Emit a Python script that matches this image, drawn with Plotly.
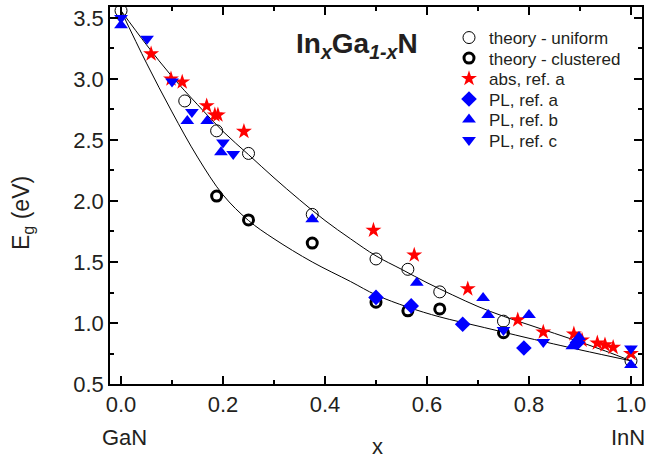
import plotly.graph_objects as go

# ---- data ----
uniform_x = [0.0, 0.125, 0.1875, 0.25, 0.375, 0.5, 0.5625, 0.625, 0.75, 1.0]
uniform_y = [3.56, 2.82, 2.575, 2.39, 1.89, 1.525, 1.44, 1.255, 1.015, 0.69]

clustered_x = [0.1875, 0.25, 0.375, 0.5, 0.5625, 0.625, 0.75]
clustered_y = [2.04, 1.845, 1.655, 1.17, 1.10, 1.115, 0.92]

abs_a_x = [0.059, 0.098, 0.12, 0.168, 0.184, 0.19, 0.241, 0.495, 0.575, 0.68,
           0.778, 0.828, 0.888, 0.904, 0.934, 0.949, 0.965, 1.0]
abs_a_y = [3.205, 3.0, 2.975, 2.78, 2.705, 2.705, 2.57, 1.76, 1.557, 1.28,
           1.025, 0.926, 0.91, 0.86, 0.836, 0.82, 0.80, 0.75]

pl_a_x = [0.5, 0.569, 0.67, 0.79, 0.895]
pl_a_y = [1.21, 1.14, 0.99, 0.795, 0.84]

pl_b_x = [0.0, 0.13, 0.169, 0.196, 0.375, 0.58, 0.71, 0.72, 0.8, 0.885, 0.898, 1.0]
pl_b_y = [3.44, 2.656, 2.656, 2.40, 1.85, 1.33, 1.205, 1.066, 1.066, 0.81, 0.885, 0.655]

pl_c_x = [0.0, 0.051, 0.1, 0.139, 0.2, 0.22, 0.75, 0.828, 1.0]
pl_c_y = [3.50, 3.33, 2.98, 2.73, 2.48, 2.385, 0.943, 0.844, 0.79]

# fitted curves
curve_u_x = [0.0, 0.05, 0.1, 0.15, 0.2, 0.25, 0.3, 0.35, 0.4, 0.45, 0.5, 0.55,
             0.6, 0.65, 0.7, 0.75, 0.8, 0.85, 0.9, 0.95, 1.0]
curve_u_y = [3.56, 3.28, 3.02, 2.79, 2.57, 2.38, 2.19, 2.01, 1.84, 1.69, 1.55, 1.44,
             1.33, 1.23, 1.135, 1.055, 0.985, 0.915, 0.845, 0.77, 0.69]

curve_c_x = [0.0, 0.05, 0.1, 0.15, 0.2, 0.25, 0.3, 0.375, 0.45, 0.5, 0.5625,
             0.625, 0.7, 0.75, 0.8, 0.9, 1.0]
curve_c_y = [3.56, 3.13, 2.73, 2.36, 2.05, 1.84, 1.69, 1.50, 1.34, 1.23, 1.13,
             1.05, 0.975, 0.925, 0.875, 0.78, 0.69]

legend_names = ["theory - uniform", "theory - clustered", "abs, ref. a",
                "PL, ref. a", "PL, ref. b", "PL, ref. c"]

FONT = "Liberation Sans, Arial, Helvetica, sans-serif"
TXT = "#231f20"
RED = "#ff0000"
BLUE = "#0000ff"

W, H = 648, 460
L, R, T, B = 110, 6, 7, 76
pw, ph = W - L - R, H - T - B


def px_x(p):
    return (p - L) / pw


def px_y(p):
    return (H - B - p) / ph


fig = go.Figure()

fig.add_trace(go.Scatter(x=curve_u_x, y=curve_u_y, mode="lines", line_shape="spline",
                         line=dict(color="black", width=1), showlegend=False, hoverinfo="skip"))
fig.add_trace(go.Scatter(x=curve_c_x, y=curve_c_y, mode="lines", line_shape="spline",
                         line=dict(color="black", width=1), showlegend=False, hoverinfo="skip"))

series = [
    (uniform_x, uniform_y, dict(symbol="circle-open", size=12, color="black",
                                line=dict(width=1, color="black"))),
    (clustered_x, clustered_y, dict(symbol="circle-open", size=10, color="black",
                                    line=dict(width=3, color="black"))),
    (abs_a_x, abs_a_y, dict(symbol="star", size=12, color=RED, line=dict(width=0))),
    (pl_a_x, pl_a_y, dict(symbol="diamond", size=12, color=BLUE, line=dict(width=0))),
    (pl_b_x, pl_b_y, dict(symbol="triangle-up", size=12, color=BLUE, line=dict(width=0))),
    (pl_c_x, pl_c_y, dict(symbol="triangle-down", size=12, color=BLUE, line=dict(width=0))),
]

legend_row_px = [38, 58.5, 79, 99.5, 120, 140.5]
legend_ids = ["legend", "legend2", "legend3", "legend4", "legend5", "legend6"]

for (sx, sy, mk), name, lid in zip(series, legend_names, legend_ids):
    fig.add_trace(go.Scatter(x=sx, y=sy, mode="markers", name=name, marker=mk, legend=lid))

axis_common = dict(
    showgrid=False, zeroline=False, showline=True, linecolor="black", linewidth=1.5,
    mirror="ticks", ticks="inside", ticklen=8, tickwidth=1.5, tickcolor="black",
    tickfont=dict(family=FONT, size=22, color=TXT), tickformat=".1f",
)

fig.update_xaxes(range=[-0.0216, 1.0216], tick0=0, dtick=0.2,
                 minor=dict(dtick=0.1, ticks="inside", ticklen=4, tickwidth=1.5, tickcolor="black"),
                 **axis_common)
fig.update_yaxes(range=[0.5, 3.59], tick0=0.5, dtick=0.5,
                 minor=dict(dtick=0.25, ticks="inside", ticklen=4, tickwidth=1.5, tickcolor="black"),
                 **axis_common)

annotations = [
    dict(text="<b>In<sub><i>x</i></sub>Ga<sub><i>1-x</i></sub>N</b>", x=px_x(357), y=px_y(46),
         xref="paper", yref="paper", showarrow=False, xanchor="center", yanchor="middle",
         font=dict(family=FONT, size=28, color=TXT)),
    dict(text="E<sub>g</sub> (eV)", x=px_x(22), y=px_y(213), xref="paper", yref="paper",
         showarrow=False, textangle=-90, xanchor="center", yanchor="middle",
         font=dict(family=FONT, size=23, color=TXT)),
    dict(text="x", x=px_x(377), y=px_y(446), xref="paper", yref="paper",
         showarrow=False, xanchor="center", yanchor="middle",
         font=dict(family=FONT, size=22, color=TXT)),
    dict(text="GaN", x=px_x(124), y=px_y(437), xref="paper", yref="paper",
         showarrow=False, xanchor="center", yanchor="middle",
         font=dict(family=FONT, size=22, color=TXT)),
    dict(text="InN", x=px_x(628), y=px_y(437), xref="paper", yref="paper",
         showarrow=False, xanchor="center", yanchor="middle",
         font=dict(family=FONT, size=22, color=TXT)),
]

layout_legends = {}
for lid, row in zip(legend_ids, legend_row_px):
    layout_legends[lid] = dict(x=px_x(449), y=px_y(row), xanchor="left", yanchor="middle",
                               bgcolor="rgba(0,0,0,0)", borderwidth=0,
                               font=dict(family=FONT, size=17, color=TXT),
                               itemsizing="trace")

fig.update_layout(
    width=W, height=H, margin=dict(l=L, r=R, t=T, b=B, autoexpand=False),
    paper_bgcolor="white", plot_bgcolor="white",
    font=dict(family=FONT, color=TXT),
    annotations=annotations,
    **layout_legends,
)

fig.write_html("out.html")
